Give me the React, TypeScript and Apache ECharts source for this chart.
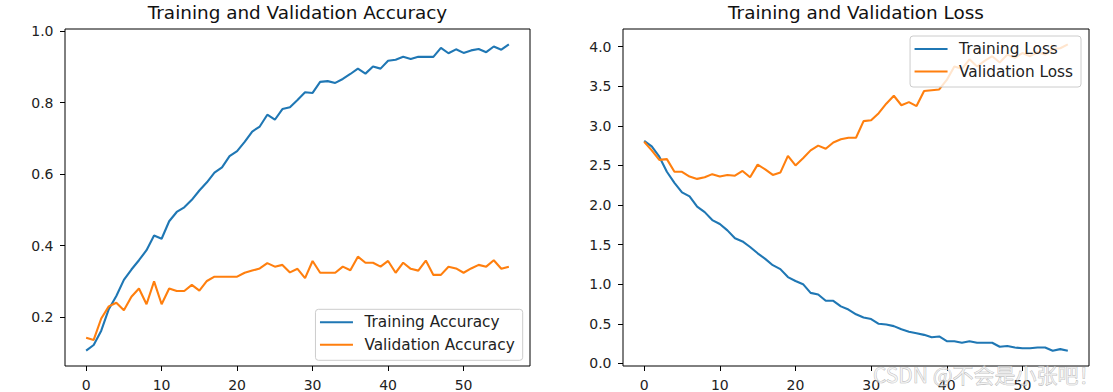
import React, { useEffect, useRef } from "react";
import * as echarts from "echarts";

// ---- data ----
const trainAcc = [
  0.106, 0.122, 0.162, 0.222, 0.259, 0.304, 0.333, 0.359, 0.387, 0.428,
  0.419, 0.468, 0.494, 0.507, 0.528, 0.554, 0.577, 0.604, 0.619, 0.65,
  0.664, 0.69, 0.719, 0.733, 0.766, 0.752, 0.782, 0.787, 0.807, 0.829,
  0.827, 0.858, 0.86, 0.855, 0.866, 0.88, 0.895, 0.881, 0.901, 0.895,
  0.917, 0.92, 0.928, 0.922, 0.928, 0.928, 0.928, 0.953, 0.938, 0.949,
  0.939, 0.946, 0.95, 0.941, 0.957, 0.948, 0.963,
];
const valAcc = [
  0.142, 0.136, 0.196, 0.23, 0.24, 0.219, 0.257, 0.28, 0.236, 0.3,
  0.236, 0.28, 0.273, 0.273, 0.29, 0.274, 0.301, 0.313, 0.313, 0.313,
  0.313, 0.324, 0.33, 0.336, 0.351, 0.341, 0.346, 0.325, 0.335, 0.309,
  0.357, 0.324, 0.324, 0.324, 0.341, 0.331, 0.369, 0.352, 0.352, 0.341,
  0.357, 0.324, 0.352, 0.335, 0.33, 0.358, 0.318, 0.318, 0.341, 0.336,
  0.324, 0.336, 0.346, 0.341, 0.359, 0.335, 0.341,
];
const trainLoss = [
  2.81, 2.74, 2.61, 2.42, 2.28, 2.16, 2.11, 1.98, 1.91, 1.81,
  1.76, 1.68, 1.58, 1.54, 1.47, 1.39, 1.32, 1.24, 1.19, 1.09,
  1.04, 1.0, 0.89, 0.87, 0.79, 0.79, 0.72, 0.68, 0.62, 0.58,
  0.56, 0.5, 0.49, 0.47, 0.43, 0.4, 0.38, 0.36, 0.33, 0.34,
  0.28, 0.28, 0.26, 0.28, 0.26, 0.26, 0.26, 0.21, 0.22, 0.2,
  0.19, 0.19, 0.2, 0.2, 0.16, 0.18, 0.16,
];
const valLoss = [
  2.8, 2.69, 2.57, 2.58, 2.42, 2.42, 2.36, 2.33, 2.35, 2.39,
  2.36, 2.38, 2.37, 2.43, 2.35, 2.51, 2.45, 2.38, 2.41, 2.62,
  2.5, 2.59, 2.69, 2.75, 2.71, 2.79, 2.83, 2.85, 2.85, 3.06,
  3.07, 3.16, 3.28, 3.38, 3.26, 3.3, 3.25, 3.44, 3.45, 3.46,
  3.58, 3.75, 3.72, 3.84, 3.75, 3.82, 3.88, 3.8, 3.9, 3.86,
  3.92, 3.88, 3.93, 3.9, 3.97, 3.98, 4.03,
];

const xTicks = [0, 10, 20, 30, 40, 50];
const accTicks = [0.2, 0.4, 0.6, 0.8, 1.0];
const lossTicks = [0, 0.5, 1.0, 1.5, 2.0, 2.5, 3.0, 3.5, 4.0];

const titles = ["Training and Validation Accuracy", "Training and Validation Loss"];
const seriesNames = [
  ["Training Accuracy", "Validation Accuracy"],
  ["Training Loss", "Validation Loss"],
];
const watermark = "CSDN @不会是小张吧！";

const BLUE = "#1f77b4";
const ORANGE = "#ff7f0e";
const FONT = "DejaVu Sans";
// horizontal line legend handle (2px band centred in a 33x15 box)
const LINE_ICON = "path://M0,0L0.01,0M0,6.5H33V8.5H0ZM33,15L32.99,15";

function padRange(arrs: number[][], frac = 0.05): [number, number] {
  let lo = Infinity;
  let hi = -Infinity;
  arrs.forEach((a) => a.forEach((v) => { lo = Math.min(lo, v); hi = Math.max(hi, v); }));
  const m = (hi - lo) * frac;
  return [lo - m, hi + m];
}

const pairs = (a: number[]) => a.map((v, i) => [i, v]);

export default function App() {
  const ref = useRef<HTMLDivElement>(null);
  useEffect(() => {
    if (!ref.current) return;
    const chart = echarts.init(ref.current, undefined, { renderer: "svg" });
    const xr = padRange([trainAcc.map((_, i) => i)]);
    const accR = padRange([trainAcc, valAcc]);
    const lossR = padRange([trainLoss, valLoss]);

    const xAxis = (gi: number) => ({
      type: "value",
      gridIndex: gi,
      min: xr[0],
      max: xr[1],
      axisLine: { show: false, onZero: false },
      splitLine: { show: false },
      axisTick: { show: true, length: 5, customValues: xTicks, lineStyle: { color: "#000", width: 1 } },
      axisLabel: {
        customValues: xTicks,
        formatter: (v: number) => String(Math.round(v)),
        color: "#222",
        fontFamily: FONT,
        fontSize: 14,
        margin: 11.5,
      },
    });
    const yAxis = (gi: number, r: [number, number], ticks: number[]) => ({
      type: "value",
      gridIndex: gi,
      min: r[0],
      max: r[1],
      axisLine: { show: false, onZero: false },
      splitLine: { show: false },
      axisTick: { show: true, length: 5, customValues: ticks, lineStyle: { color: "#000", width: 1 } },
      axisLabel: {
        customValues: ticks,
        formatter: (v: number) => v.toFixed(1),
        color: "#222",
        fontFamily: FONT,
        fontSize: 14,
        margin: 11.5,
      },
    });
    const legendCommon = {
      orient: "vertical",
      icon: LINE_ICON,
      itemWidth: 33,
      itemHeight: 15,
      itemGap: 7.5,
      padding: [5.5, 8, 8, 4.5],
      backgroundColor: "rgba(255,255,255,0.8)",
      borderColor: "#cccccc",
      borderWidth: 1,
      borderRadius: 3,
      selectedMode: false,
      textStyle: { fontFamily: FONT, fontSize: 15.3, color: "#222", padding: [0, 0, 0, 6.5] },
    };
    const line = (name: string, data: number[], color: string, gi: number) => ({
      type: "line",
      name,
      data: pairs(data),
      xAxisIndex: gi,
      yAxisIndex: gi,
      symbol: "none",
      color,
      itemStyle: { color },
      lineStyle: { color, width: 2.1 },
      z: 2,
    });

    chart.setOption({
      animation: false,
      backgroundColor: "#ffffff",
      grid: [
        { left: 65, top: 29, width: 465, height: 337, show: true, borderColor: "#000", borderWidth: 1, backgroundColor: "transparent", outerBoundsMode: "none" },
        { left: 623, top: 29, width: 466, height: 337, show: true, borderColor: "#000", borderWidth: 1, backgroundColor: "transparent", outerBoundsMode: "none" },
      ],
      xAxis: [xAxis(0), xAxis(1)],
      yAxis: [yAxis(0, accR, accTicks), yAxis(1, lossR, lossTicks)],
      legend: [
        { ...legendCommon, data: seriesNames[0], right: 590.3, top: 309.3 },
        { ...legendCommon, data: seriesNames[1], right: 32, top: 36 },
      ],
      series: [
        line(seriesNames[0][0], trainAcc, BLUE, 0),
        line(seriesNames[0][1], valAcc, ORANGE, 0),
        line(seriesNames[1][0], trainLoss, BLUE, 1),
        line(seriesNames[1][1], valLoss, ORANGE, 1),
      ],
      graphic: [
        {
          type: "text",
          x: 297.5,
          y: 12,
          style: { text: titles[0], fontFamily: FONT, fontSize: 18.4, fill: "#111", textAlign: "center", textVerticalAlign: "middle" },
        },
        {
          type: "text",
          x: 856,
          y: 12,
          style: { text: titles[1], fontFamily: FONT, fontSize: 18.4, fill: "#111", textAlign: "center", textVerticalAlign: "middle" },
        },
        {
          type: "text",
          x: 873,
          y: 374,
          z: 100,
          style: {
            text: watermark,
            fontFamily: "Noto Sans CJK SC",
            fontSize: 21,
            fill: "rgba(240,240,240,0.55)",
            stroke: "rgba(140,140,140,0.7)",
            lineWidth: 0.6,
            textAlign: "left",
            textVerticalAlign: "middle",
          },
        },
      ],
    });
    return () => chart.dispose();
  }, []);
  return (
    <div
      ref={ref}
      style={{ position: "absolute", left: 0, top: 0, width: 1113, height: 392 }}
    />
  );
}
